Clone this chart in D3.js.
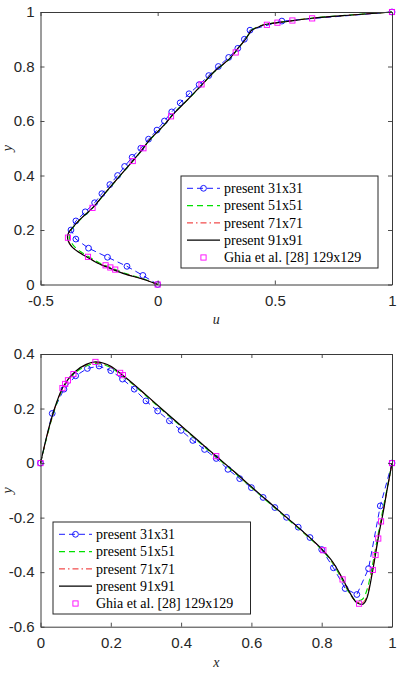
<!DOCTYPE html>
<html>
<head>
<meta charset="utf-8">
<script src="https://cdn.jsdelivr.net/npm/d3@7"></script>
<style>
  body { margin: 0; background: #fff; }
  svg { display: block; }
</style>
</head>
<body>
<script>
// Grid points of the coarse 31x31 run (shared by both panels)
const grid31 = [0, 0.0333, 0.0667, 0.1, 0.1333, 0.1667, 0.2, 0.2333, 0.2667, 0.3,
  0.3333, 0.3667, 0.4, 0.4333, 0.4667, 0.5, 0.5333, 0.5667, 0.6, 0.6333,
  0.6667, 0.7, 0.7333, 0.7667, 0.8, 0.8333, 0.8667, 0.9, 0.9333, 0.9667, 1];

// ---- top panel: u along the vertical centre line ----
const u31 = [0, -0.063, -0.131, -0.214, -0.295, -0.349, -0.370, -0.349, -0.309, -0.269,
  -0.238, -0.204, -0.171, -0.141, -0.109, -0.072, -0.039, -0.003, 0.029, 0.060,
  0.096, 0.134, 0.177, 0.218, 0.259, 0.303, 0.342, 0.370, 0.394, 0.530, 1];

const yFine = [0, 0.02, 0.04, 0.06, 0.08, 0.10, 0.12, 0.14, 0.16, 0.175, 0.19, 0.21, 0.24,
  0.28, 0.33, 0.38, 0.43, 0.48, 0.53, 0.58, 0.63, 0.68, 0.73, 0.78, 0.83, 0.87,
  0.90, 0.92, 0.935, 0.945, 0.955, 0.966, 0.977, 0.989, 1];
const u51 = [0, -0.06, -0.135, -0.195, -0.25, -0.29, -0.328, -0.356, -0.372, -0.377, -0.375,
  -0.36, -0.328, -0.278, -0.229, -0.179, -0.129, -0.079, -0.034, 0.023, 0.07, 0.131, 0.186,
  0.241, 0.309, 0.347, 0.374, 0.39, 0.402, 0.425, 0.46, 0.55, 0.65, 0.82, 1];
const u71 = [0, -0.064, -0.143, -0.203, -0.258, -0.298, -0.338, -0.366, -0.38, -0.384, -0.379,
  -0.362, -0.33, -0.279, -0.23, -0.18, -0.13, -0.08, -0.035, 0.022, 0.072, 0.13, 0.185,
  0.24, 0.308, 0.346, 0.375, 0.39, 0.404, 0.428, 0.463, 0.556, 0.656, 0.826, 1];
const u91 = [0, -0.065, -0.145, -0.205, -0.26, -0.30, -0.34, -0.368, -0.382, -0.385, -0.38,
  -0.362, -0.33, -0.279, -0.23, -0.18, -0.13, -0.08, -0.035, 0.022, 0.072, 0.13, 0.185,
  0.24, 0.308, 0.346, 0.375, 0.39, 0.405, 0.43, 0.465, 0.56, 0.66, 0.83, 1];

const ghiaY = [1.0, 0.9766, 0.9688, 0.9609, 0.9531, 0.8516, 0.7344, 0.6172, 0.5,
  0.4531, 0.2813, 0.1719, 0.1016, 0.0703, 0.0625, 0.0547, 0];
const ghiaU = [1.0, 0.65928, 0.57492, 0.51117, 0.46604, 0.33304, 0.18719, 0.05702, -0.0608,
  -0.10648, -0.27805, -0.38289, -0.2973, -0.2222, -0.20196, -0.18109, 0];

// ---- bottom panel: v along the horizontal centre line ----
const v31 = [0, 0.182, 0.271, 0.320, 0.347, 0.356, 0.339, 0.308, 0.271, 0.228,
  0.191, 0.155, 0.120, 0.083, 0.050, 0.017, -0.023, -0.057, -0.090, -0.126,
  -0.163, -0.199, -0.235, -0.273, -0.317, -0.384, -0.460, -0.482, -0.387, -0.157, 0];

const xFine = [0, 0.02, 0.04, 0.0625, 0.08, 0.10, 0.13, 0.156, 0.18, 0.2, 0.234, 0.27, 0.3,
  0.35, 0.4, 0.45, 0.5, 0.55, 0.6, 0.65, 0.7, 0.75, 0.8, 0.83, 0.86, 0.88, 0.9, 0.915,
  0.93, 0.945, 0.955, 0.965, 0.975, 0.985, 1];
const v51 = [0, 0.105, 0.195, 0.27, 0.305, 0.332, 0.356, 0.365, 0.361, 0.35, 0.318, 0.281,
  0.247, 0.19, 0.134, 0.078, 0.022, -0.033, -0.09, -0.146, -0.202, -0.258, -0.318, -0.365,
  -0.432, -0.48, -0.505, -0.5, -0.46, -0.37, -0.3, -0.23, -0.165, -0.1, 0];
const v71 = [0, 0.108, 0.198, 0.273, 0.308, 0.335, 0.36, 0.369, 0.364, 0.353, 0.32, 0.283,
  0.249, 0.192, 0.136, 0.08, 0.024, -0.031, -0.088, -0.144, -0.2, -0.256, -0.316, -0.362,
  -0.428, -0.477, -0.51, -0.512, -0.482, -0.388, -0.313, -0.24, -0.175, -0.107, 0];
const v91 = [0, 0.11, 0.2, 0.275, 0.31, 0.337, 0.362, 0.371, 0.366, 0.355, 0.322, 0.284,
  0.25, 0.193, 0.137, 0.081, 0.025, -0.03, -0.087, -0.143, -0.199, -0.255, -0.315, -0.36,
  -0.425, -0.475, -0.512, -0.518, -0.49, -0.395, -0.32, -0.245, -0.18, -0.105, 0];

const ghiaX = [1.0, 0.9688, 0.9609, 0.9531, 0.9453, 0.9063, 0.8594, 0.8047, 0.5,
  0.2344, 0.2266, 0.1563, 0.0938, 0.0781, 0.0703, 0.0625, 0];
const ghiaV = [0, -0.21388, -0.27669, -0.33714, -0.39188, -0.5155, -0.42665, -0.31966, 0.02526,
  0.32235, 0.33075, 0.37095, 0.32627, 0.30353, 0.29012, 0.27485, 0];

const legendLabels = ["present 31x31", "present 51x51", "present 71x71",
  "present 91x91", "Ghia et al. [28] 129x129"];

// line styles, one per series (31, 51, 71, 91, Ghia)
const styles = [
  {color: "#0000ff", dash: "6,4", width: 0.9, marker: "circle"},
  {color: "#00e000", dash: "6,4", width: 1.1, marker: null},
  {color: "#ee2020", dash: "6,3,1.5,3", width: 1, marker: null},
  {color: "#000000", dash: null, width: 1.2, marker: null},
  {color: "#ff00ff", dash: null, width: 0, marker: "square"}
];

const tickFont = "'Liberation Sans', Arial, Helvetica, sans-serif";
const serifFont = "'Liberation Serif', 'Times New Roman', serif";

const svg = d3.select("body").append("svg")
  .attr("width", 400)
  .attr("height", 674);

svg.append("rect").attr("width", 400).attr("height", 674).attr("fill", "#fff");

function drawMarker(g, type, cx, cy, color) {
  if (type === "circle") {
    g.append("circle").attr("cx", cx).attr("cy", cy).attr("r", 2.9)
      .attr("fill", "none").attr("stroke", color).attr("stroke-width", 0.9);
  } else if (type === "square") {
    g.append("rect").attr("x", cx - 2.6).attr("y", cy - 2.6)
      .attr("width", 5.2).attr("height", 5.2)
      .attr("fill", "none").attr("stroke", color).attr("stroke-width", 0.9);
  }
}

// p: panel settings; series: list of {xs, ys} (already in plot orientation)
function drawPanel(p, series) {
  const x = d3.scaleLinear().domain(p.xDomain).range([p.left, p.right]);
  const y = d3.scaleLinear().domain(p.yDomain).range([p.bottom, p.top]);
  const g = svg.append("g");

  // curves, in plotting order so the fine grid ends up on top
  series.forEach((s, i) => {
    const st = styles[i];
    const pts = s.xs.map((d, j) => [d, s.ys[j]]);
    if (st.width > 0) {
      const line = d3.line().x(d => x(d[0])).y(d => y(d[1])).curve(s.curve || d3.curveLinear);
      g.append("path").datum(pts)
        .attr("d", line)
        .attr("fill", "none")
        .attr("stroke", st.color)
        .attr("stroke-width", st.width)
        .attr("stroke-dasharray", st.dash);
    }
    if (st.marker) pts.forEach(d => drawMarker(g, st.marker, x(d[0]), y(d[1]), st.color));
  });

  // box with inward ticks on all sides
  const fmt = d => String(d);
  const axB = g.append("g").attr("transform", `translate(0,${p.bottom})`)
    .call(d3.axisBottom(x).tickValues(p.xTicks).tickFormat(fmt).tickSizeInner(-4).tickSizeOuter(0).tickPadding(11));
  const axL = g.append("g").attr("transform", `translate(${p.left},0)`)
    .call(d3.axisLeft(y).tickValues(p.yTicks).tickFormat(fmt).tickSizeInner(-4).tickSizeOuter(0).tickPadding(6));
  const axT = g.append("g").attr("transform", `translate(0,${p.top})`)
    .call(d3.axisTop(x).tickValues(p.xTicks).tickFormat("").tickSizeInner(-4).tickSizeOuter(0));
  const axR = g.append("g").attr("transform", `translate(${p.right},0)`)
    .call(d3.axisRight(y).tickValues(p.yTicks).tickFormat("").tickSizeInner(-4).tickSizeOuter(0));

  [axB, axL, axT, axR].forEach(a => {
    a.select(".domain").attr("stroke", "#3a3a3a").attr("stroke-width", 1);
    a.selectAll(".tick line").attr("stroke", "#3a3a3a").attr("stroke-width", 0.9);
    a.selectAll(".tick text").attr("fill", "#262626")
      .attr("font-family", tickFont).attr("font-size", "15px");
  });

  // axis labels
  g.append("text")
    .attr("x", (p.left + p.right) / 2).attr("y", p.xLabelY)
    .attr("text-anchor", "middle")
    .attr("font-family", serifFont).attr("font-style", "italic").attr("font-size", "14px")
    .attr("fill", "#262626")
    .text(p.xLabel);
  g.append("text")
    .attr("transform", `translate(${p.yLabelX},${(p.top + p.bottom) / 2}) rotate(-90)`)
    .attr("text-anchor", "middle")
    .attr("font-family", serifFont).attr("font-style", "italic").attr("font-size", "14px")
    .attr("fill", "#262626")
    .text("y");

  // legend
  const lg = g.append("g");
  lg.append("rect")
    .attr("x", p.legend.x).attr("y", p.legend.y)
    .attr("width", p.legend.w).attr("height", p.legend.h)
    .attr("fill", "#fff").attr("stroke", "#262626").attr("stroke-width", 1);
  legendLabels.forEach((lab, i) => {
    const st = styles[i];
    const cy = p.legend.y + 12.3 + i * 17.3;
    const x0 = p.legend.x + 6, x1 = p.legend.x + 39;
    if (st.width > 0) {
      lg.append("line").attr("x1", x0).attr("x2", x1).attr("y1", cy).attr("y2", cy)
        .attr("stroke", st.color).attr("stroke-width", st.width)
        .attr("stroke-dasharray", st.dash);
    }
    if (st.marker) drawMarker(lg, st.marker, (x0 + x1) / 2, cy, st.color);
    lg.append("text")
      .attr("x", p.legend.x + 43).attr("y", cy + 4.8)
      .attr("font-family", serifFont).attr("font-size", "14px").attr("fill", "#000")
      .text(lab);
  });
}

// top panel: u on the horizontal axis, y on the vertical
drawPanel({
  left: 40.5, right: 392, top: 12, bottom: 284.5,
  xDomain: [-0.5, 1], yDomain: [0, 1],
  xTicks: [-0.5, 0, 0.5, 1], yTicks: [0, 0.2, 0.4, 0.6, 0.8, 1],
  xLabel: "u", xLabelY: 324, yLabelX: 12,
  legend: {x: 181, y: 176, w: 197, h: 92}
}, [
  {xs: u31, ys: grid31},
  {xs: u51, ys: yFine, curve: d3.curveMonotoneY},
  {xs: u71, ys: yFine, curve: d3.curveMonotoneY},
  {xs: u91, ys: yFine, curve: d3.curveMonotoneY},
  {xs: ghiaU, ys: ghiaY}
]);

// bottom panel: x on the horizontal axis, v on the vertical
drawPanel({
  left: 40.5, right: 392, top: 354, bottom: 626.7,
  xDomain: [0, 1], yDomain: [-0.6, 0.4],
  xTicks: [0, 0.2, 0.4, 0.6, 0.8, 1], yTicks: [-0.6, -0.4, -0.2, 0, 0.2, 0.4],
  xLabel: "x", xLabelY: 667, yLabelX: 12,
  legend: {x: 53, y: 522, w: 197.5, h: 92}
}, [
  {xs: grid31, ys: v31},
  {xs: xFine, ys: v51, curve: d3.curveMonotoneX},
  {xs: xFine, ys: v71, curve: d3.curveMonotoneX},
  {xs: xFine, ys: v91, curve: d3.curveMonotoneX},
  {xs: ghiaX, ys: ghiaV}
]);
</script>
</body>
</html>
